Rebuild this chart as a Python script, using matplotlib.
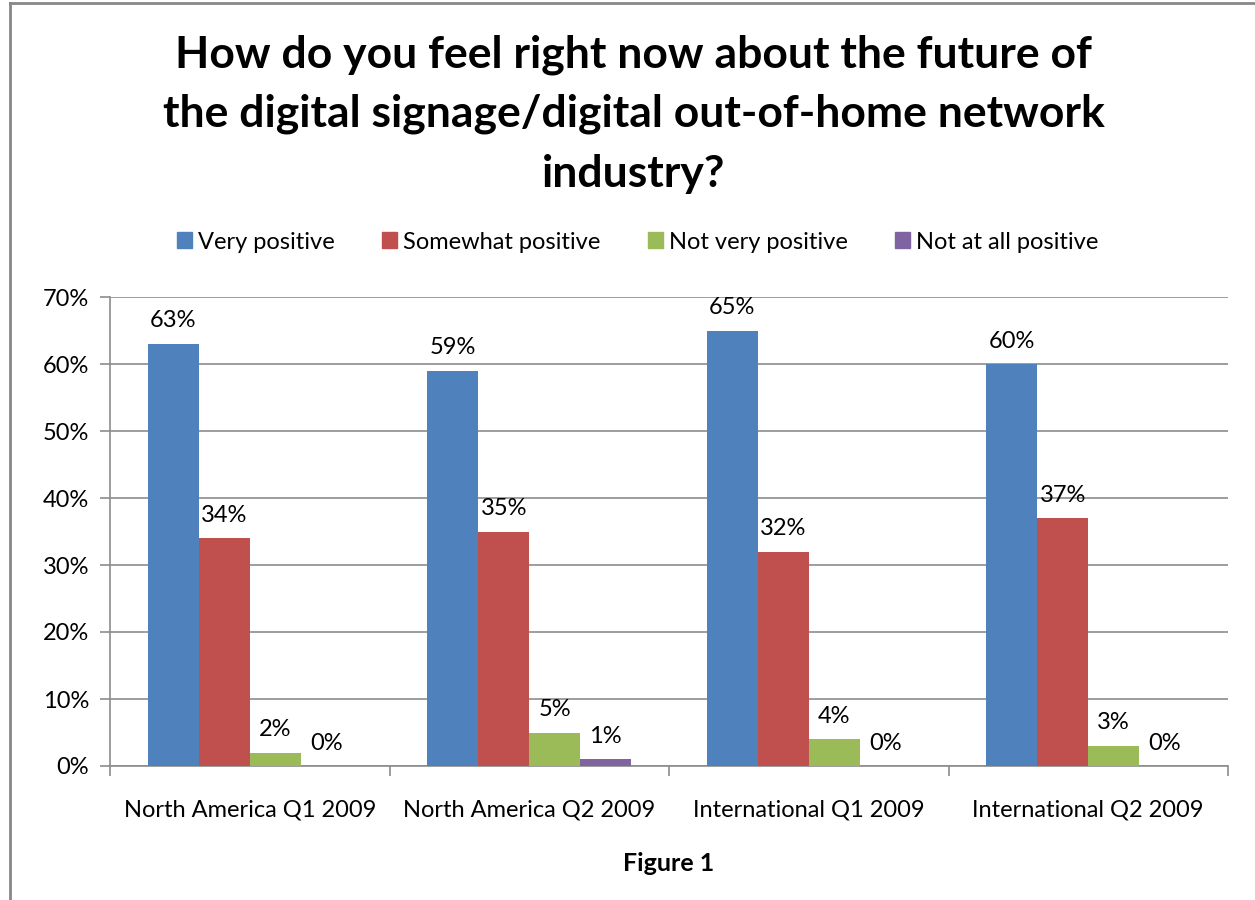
import matplotlib
matplotlib.use("Agg")
import matplotlib.pyplot as plt
from matplotlib.patches import Rectangle
from matplotlib.lines import Line2D
import numpy as np

plt.rcParams['font.family'] = ['Lato', 'DejaVu Sans']

categories = ["North America Q1 2009", "North America Q2 2009",
              "International Q1 2009", "International Q2 2009"]
series_names = ["Very positive", "Somewhat positive", "Not very positive", "Not at all positive"]
very_positive = [63, 59, 65, 60]
somewhat_positive = [34, 35, 32, 37]
not_very_positive = [2, 5, 4, 3]
not_at_all_positive = [0, 1, 0, 0]
colors = ["#4F81BD", "#C0504D", "#9BBB59", "#8064A2"]
y_ticks = [0, 10, 20, 30, 40, 50, 60, 70]

FS = 17

fig = plt.figure(figsize=(12.55, 9), dpi=100)
ax = fig.add_axes([110 / 1255, 134 / 900, 1118 / 1255, 469 / 900])

# chart frame (left and top edges)
fig.add_artist(Line2D([9.5 / 1255, 9.5 / 1255], [0, 897 / 900], color="#878787", lw=2, transform=fig.transFigure))
fig.add_artist(Line2D([9.5 / 1255, 1], [897 / 900, 897 / 900], color="#878787", lw=2, transform=fig.transFigure))

x = np.arange(len(categories))
w = 0.1825
all_series = [very_positive, somewhat_positive, not_very_positive, not_at_all_positive]
for i, (vals, col, name) in enumerate(zip(all_series, colors, series_names)):
    pos = x + (i - 1.5) * w
    ax.bar(pos, vals, width=w, color=col, label=name, zorder=3)
    for px, v in zip(pos, vals):
        ax.annotate(f"{v}%", (px, v), xytext=(0, 9), textcoords="offset points",
                    ha="center", va="bottom", fontsize=FS, color="black")

ax.set_xlim(-0.5, len(categories) - 0.5)
ax.set_ylim(0, 70)
ax.set_yticks(y_ticks)
ax.set_yticklabels([f"{t}%" for t in y_ticks], fontsize=FS)
ax.yaxis.grid(True, color="#8c8c8c", lw=1.2, zorder=0)
ax.set_axisbelow(True)

ax.set_xticks(x)
ax.set_xticklabels(categories, fontsize=FS)
ax.tick_params(axis="x", length=0, pad=24)
ax.set_xticks(np.arange(-0.5, len(categories)), minor=True)
ax.tick_params(axis="x", which="minor", length=7, color="#8c8c8c", width=1.2)
ax.tick_params(axis="y", length=7, color="#8c8c8c", width=1.2, pad=8)

for s in ["top", "right"]:
    ax.spines[s].set_visible(False)
for s in ["left", "bottom"]:
    ax.spines[s].set_color("#8c8c8c")
    ax.spines[s].set_linewidth(1.2)

ax.set_xlabel("Figure 1", fontsize=18, fontweight="bold", labelpad=23)

fig.text(0.505, 1 - 114 / 900, "How do you feel right now about the future of\n"
         "the digital signage/digital out-of-home network\nindustry?",
         ha="center", va="center", fontsize=32, fontweight="bold", linespacing=1.58)

handles = [Rectangle((0, 0), 1, 1, color=c) for c in colors]
fig.legend(handles, series_names, loc="center", bbox_to_anchor=(0.508, 0.731), ncol=4,
           frameon=False, fontsize=FS, handlelength=0.65, handleheight=0.65,
           handletextpad=0.25, columnspacing=2.0)

fig.savefig("out.png", dpi=100)
